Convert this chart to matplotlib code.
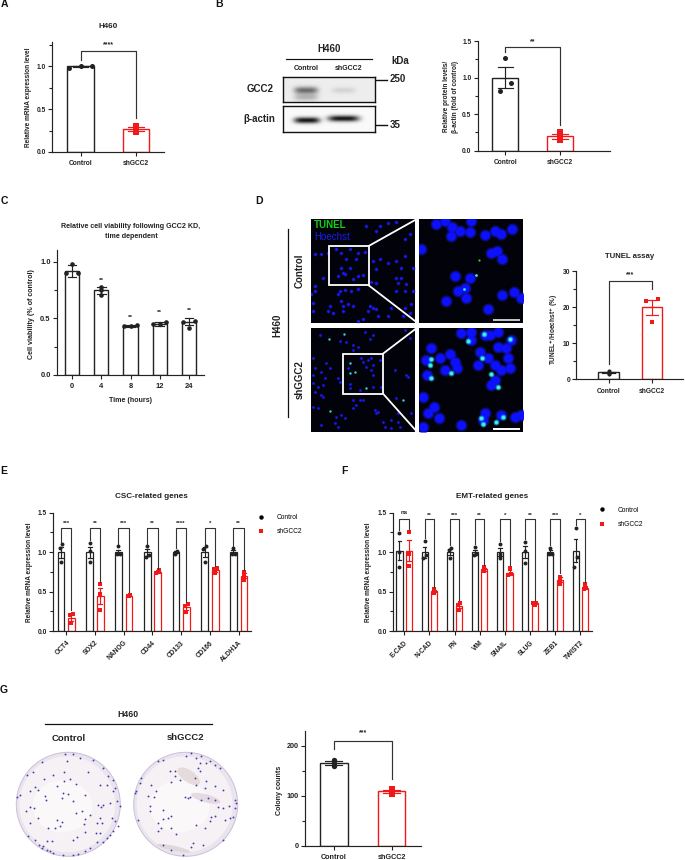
import numpy as np
import matplotlib
matplotlib.use("Agg")
import matplotlib.pyplot as plt
from matplotlib.lines import Line2D
from matplotlib.patches import Circle, Ellipse, Rectangle

plt.rcParams['font.family'] = ['Liberation Sans', 'DejaVu Sans']
plt.rcParams['font.weight'] = 'bold'
plt.rcParams['axes.linewidth'] = 0.85

BLACK = '#222222'
RED = '#f01818'
W, H = 685, 860

# panel A
a_ctrl = [0.98, 1.01, 1.00]
a_sh = [0.23, 0.30, 0.27]
a_means = [1.00, 0.27]
a_errs = [0.01, 0.025]

# panel B
b_ctrl = [1.27, 0.92, 0.81]
b_sh = [0.25, 0.20, 0.14]
b_means = [1.00, 0.20]
b_errs = [0.14, 0.035]

# panel C
c_times = ['0', '4', '8', '12', '24']
c_means = [0.92, 0.75, 0.43, 0.45, 0.47]
c_errs = [0.05, 0.03, 0.01, 0.02, 0.03]
c_points = [[0.98, 0.90, 0.90], [0.78, 0.75, 0.71], [0.44, 0.43, 0.43],
            [0.47, 0.45, 0.45], [0.48, 0.47, 0.41]]
c_stars = ['', '**', '**', '**', '**']
c_star_y = [0, 0.84, 0.51, 0.55, 0.566]

# panel D chart
d_ctrl = [2.3, 1.8, 1.5]
d_sh = [22.3, 21.8, 15.8]
d_means = [1.9, 20.0]
d_errs = [0.25, 2.0]

# panel E
e_genes = ['OCT4', 'SOX2', 'NANOG', 'CD44', 'CD133', 'CD166', 'ALDH1A']
e_ctrl = [[1.10, 1.05, 0.87], [1.12, 1.02, 0.87], [1.08, 0.98, 0.97], [1.08, 0.96, 0.94],
          [1.02, 1.00, 0.98], [1.08, 1.04, 0.88], [1.05, 0.98, 0.97]]
e_sh = [[0.22, 0.20, 0.10], [0.59, 0.47, 0.27], [0.46, 0.45, 0.44], [0.77, 0.75, 0.74],
        [0.34, 0.32, 0.24], [0.80, 0.78, 0.73], [0.75, 0.70, 0.65]]
e_ctrl_means = [1.0, 1.0, 1.0, 1.0, 1.0, 1.0, 1.0]
e_ctrl_errs = [0.07, 0.07, 0.03, 0.045, 0.01, 0.06, 0.025]
e_sh_means = [0.17, 0.44, 0.45, 0.75, 0.30, 0.77, 0.70]
e_sh_errs = [0.04, 0.10, 0.01, 0.01, 0.03, 0.02, 0.03]
e_stars = ['***', '**', '***', '**', '****', '*', '**']
e_left_leg = [1.13, 1.15, 1.10, 1.10, 1.05, 1.10, 1.08]
e_right_leg = [0.26, 0.62, 0.49, 0.79, 0.37, 0.83, 0.77]

# panel F
f_genes = ['E-CAD', 'N-CAD', 'FN', 'VIM', 'SNAIL', 'SLUG', 'ZEB1', 'TWIST2']
f_ctrl = [[1.24, 1.00, 0.81], [1.14, 0.96, 0.93], [1.05, 1.03, 0.92], [1.06, 0.98, 0.96],
          [1.10, 0.98, 0.92], [1.13, 1.02, 0.86], [1.05, 0.98, 0.97], [1.30, 0.94, 0.81]]
f_sh = [[1.25, 0.97, 0.83], [0.53, 0.50, 0.48], [0.36, 0.33, 0.27], [0.81, 0.78, 0.76],
        [0.80, 0.72, 0.71], [0.36, 0.35, 0.33], [0.69, 0.65, 0.60], [0.59, 0.54, 0.53]]
f_ctrl_means = [1.02, 1.0, 1.0, 1.0, 1.0, 1.0, 1.0, 1.02]
f_ctrl_errs = [0.12, 0.07, 0.04, 0.03, 0.05, 0.08, 0.025, 0.15]
f_sh_means = [1.02, 0.51, 0.32, 0.78, 0.74, 0.35, 0.65, 0.55]
f_sh_errs = [0.13, 0.015, 0.03, 0.015, 0.03, 0.01, 0.03, 0.02]
f_stars = ['ns', '**', '***', '**', '*', '**', '***', '*']
f_left_leg = [1.28, 1.18, 1.09, 1.10, 1.14, 1.17, 1.09, 1.34]
f_right_leg = [1.29, 0.56, 0.39, 0.84, 0.84, 0.39, 0.73, 0.62]

# panel G
g_ctrl = [173, 167, 160]
g_sh = [115, 111, 104]
g_means = [167, 110]
g_errs = [4, 3]

# micrographs, positions (crop coordinates, 3x zoom)
top_left_cells = [(20, 115), (38, 113), (60, 110), (85, 100), (100, 110), (125, 100), (150, 112), (170, 108),
                  (175, 30), (205, 45), (215, 30), (240, 22), (265, 18), (290, 70), (305, 55), (290, 120),
                  (215, 130), (240, 140), (265, 135), (195, 135), (205, 160), (280, 155), (315, 155), (265, 185),
                  (280, 185), (270, 200), (295, 205), (265, 225), (290, 225), (315, 225), (190, 198), (205, 200),
                  (100, 155), (125, 155), (105, 170), (90, 180), (110, 175), (135, 190), (150, 180), (165, 178),
                  (145, 130), (115, 130), (45, 185), (20, 210), (22, 225), (95, 225), (110, 222), (90, 235),
                  (150, 220), (130, 225), (100, 255), (105, 270), (120, 265), (135, 270), (65, 270), (60, 285),
                  (75, 290), (105, 285), (15, 260), (15, 285), (180, 285), (195, 275), (185, 270), (210, 300),
                  (165, 310), (150, 315), (205, 280), (240, 300), (290, 275), (310, 265), (305, 290), (285, 300),
                  (250, 275), (10, 235)]
top_zoom_cells = [(385, 25), (410, 15), (433, 32), (430, 60), (455, 45), (485, 48), (490, 15), (530, 58),
                  (560, 45), (578, 55), (612, 38), (338, 100), (548, 112), (567, 105), (583, 130), (440, 180),
                  (487, 185), (470, 215), (450, 225), (475, 245), (415, 255), (540, 280), (583, 238), (618, 228),
                  (640, 245)]
top_zoom_green = [(512, 133)]
top_zoom_cyan = [(505, 177), (468, 218)]
bottom_left_cells = [(15, 100), (20, 130), (15, 150), (15, 175), (30, 185), (40, 140), (55, 115), (65, 130),
                     (50, 160), (45, 180), (40, 210), (20, 200), (15, 245), (30, 250), (45, 215), (35, 30),
                     (95, 47), (115, 50), (135, 60), (150, 65), (185, 42), (135, 75), (160, 100), (120, 130),
                     (170, 20), (165, 110), (180, 105), (190, 100), (195, 120), (175, 125), (190, 135), (195, 150),
                     (215, 105), (90, 160), (95, 170), (125, 178), (125, 190), (155, 195), (195, 185), (220, 185),
                     (100, 270), (85, 275), (110, 280), (80, 295), (40, 300), (90, 305), (135, 225), (155, 225),
                     (145, 240), (165, 225), (135, 250), (200, 255), (210, 260), (205, 265), (260, 135), (295, 150),
                     (300, 155), (265, 220), (250, 285), (270, 290), (225, 290), (230, 305), (250, 310), (275, 305),
                     (270, 265), (310, 265), (305, 40), (290, 15), (195, 30)]
bottom_left_cyan = [(65, 258), (62, 42), (108, 27), (125, 115), (140, 140), (125, 145), (175, 190), (285, 225)]
bottom_zoom_cells = [(370, 70), (353, 105), (395, 100), (425, 88), (440, 110), (410, 135), (448, 130), (358, 150),
                     (460, 25), (490, 20), (490, 45), (530, 30), (545, 30), (515, 80), (510, 120), (540, 100),
                     (570, 65), (595, 70), (600, 100), (560, 120), (580, 135), (605, 130), (560, 165), (550, 180),
                     (345, 215), (378, 245), (360, 265), (392, 280), (460, 300), (530, 265), (525, 285), (580, 270),
                     (620, 275), (640, 270), (345, 305), (570, 20), (610, 45)]
bottom_zoom_cyan = [(368, 101), (365, 120), (370, 160), (430, 143), (480, 47), (527, 27), (607, 43), (523, 100),
                    (550, 147), (570, 187), (518, 280), (525, 297), (585, 275), (565, 290)]

# colonies on the two plates (crop coordinates, 3x zoom)
plate1_colonies = [(165, 17), (190, 17), (210, 30), (170, 38), (95, 42), (250, 35), (280, 60), (235, 72), (68, 72),
                   (52, 82), (130, 82), (102, 93), (162, 72), (295, 85), (310, 95), (162, 98), (198, 107), (180, 92),
                   (140, 115), (270, 110), (290, 110), (75, 118), (85, 125), (60, 130), (225, 140), (175, 138),
                   (160, 135), (155, 150), (190, 160), (105, 145), (108, 157), (30, 140), (22, 148), (60, 178),
                   (72, 180), (48, 190), (265, 172), (272, 178), (215, 190), (197, 195), (240, 200), (280, 170),
                   (300, 165), (322, 160), (310, 130), (315, 120), (330, 175), (305, 210), (270, 210), (262, 225),
                   (275, 225), (225, 252), (258, 255), (270, 255), (222, 228), (225, 212), (140, 215), (155, 222),
                   (150, 235), (135, 240), (85, 210), (60, 225), (115, 240), (200, 268), (190, 275), (260, 283),
                   (280, 282), (290, 270), (315, 220), (325, 235), (310, 250), (300, 262), (125, 280), (110, 280),
                   (75, 275), (55, 265), (100, 295), (120, 310), (130, 315), (160, 322), (190, 320), (205, 318),
                   (225, 308), (240, 300), (88, 290), (112, 305), (95, 300)]
plate2_colonies = [(90, 40), (105, 35), (175, 25), (205, 30), (220, 25), (245, 40), (260, 50), (275, 60), (190, 15),
                   (235, 45), (215, 45), (210, 60), (215, 70), (125, 70), (140, 70), (140, 85), (128, 102), (155, 95),
                   (200, 90), (205, 110), (235, 100), (260, 115), (230, 120), (285, 125), (40, 90), (35, 105),
                   (25, 130), (22, 135), (70, 110), (85, 128), (60, 145), (78, 148), (170, 148), (180, 149),
                   (185, 148), (220, 155), (240, 150), (260, 155), (320, 155), (325, 165), (322, 180), (303, 175),
                   (270, 178), (285, 180), (105, 185), (65, 175), (65, 190), (130, 205), (105, 212), (120, 210),
                   (260, 205), (250, 207), (30, 215), (90, 225), (100, 240), (130, 240), (205, 230), (230, 240),
                   (245, 220), (290, 215), (305, 210), (315, 208), (145, 258), (90, 250), (195, 285), (190, 298),
                   (225, 290), (105, 290), (130, 305), (165, 320), (285, 275)]

# western blot bands: centre x, centre y, half width, half height, darkness (fractions of the box)
gcc2_bands = [(0.25, 0.55, 0.13, 0.14, 0.50), (0.25, 0.82, 0.13, 0.14, 0.22), (0.66, 0.55, 0.13, 0.12, 0.10)]
actin_bands = [(0.26, 0.55, 0.14, 0.12, 0.90), (0.66, 0.48, 0.17, 0.12, 0.90)]


fig = plt.figure(figsize=(W / 100, H / 100), dpi=100, facecolor='white')

# overlay in pixel coordinates for labels and the panel furniture
ov = fig.add_axes([0, 0, 1, 1], zorder=5)
ov.set_xlim(0, W)
ov.set_ylim(H, 0)
ov.axis('off')


def axes_px(left, right, top, bottom, **kw):
    return fig.add_axes([left / W, 1 - bottom / H, (right - left) / W, (bottom - top) / H], **kw)


def label(x, y, s, size=4.8, rot=0, ha='center', va='center', **kw):
    ov.text(x, y, s, fontsize=size, rotation=rot, ha=ha, va=va, color=kw.pop('color', BLACK), **kw)


def swarm(vals, step):
    # spread points of similar height sideways, the way the original software does
    vals = np.array(vals)
    thr = (vals.max() - vals.min()) * 0.3 + 0.005 * max(vals.max(), 1)
    off = np.zeros(len(vals))
    order = np.argsort(vals)
    lo, mid, hi = order
    if vals[hi] - vals[lo] < thr * 1.6 or vals[hi] - vals[lo] < 0.05 * vals.max():
        off[lo], off[mid], off[hi] = -step, 0, step
    elif vals[hi] - vals[mid] < thr:
        off[mid], off[hi] = -step, step
    elif vals[mid] - vals[lo] < thr:
        off[lo], off[mid] = -step, step
    return off


def bar_group(ax, x, mean, err, pts, color, width, step, ms=11, marker='o', lw=1.0):
    ax.bar(x, mean, width, facecolor='white', edgecolor=color, linewidth=lw, zorder=2)
    cap = width * 0.3
    ax.plot([x, x], [mean - err, mean + err], color=color, lw=0.85, zorder=3)
    for v in (mean - err, mean + err):
        ax.plot([x - cap, x + cap], [v, v], color=color, lw=0.85, zorder=3)
    ax.scatter(x + swarm(pts, step), pts, s=ms, c=color, marker=marker, linewidths=0, zorder=4)


def bracket(ax, x0, x1, top, left_leg, right_leg, text, text_y, size=5, lw=0.85):
    ax.plot([x0, x0, x1, x1], [left_leg, top, top, right_leg], color='#333333', lw=lw, clip_on=False, zorder=5)
    ax.text((x0 + x1) / 2, text_y, text, fontsize=size, ha='center', va='center', color=BLACK, clip_on=False)


def chart(left, right, top, y0, x0, spacing, ylim, yticks, minor, xlabels, xticks=None, rot=0, fs=4.8):
    ax = axes_px(left, right, top, y0)
    ax.patch.set_alpha(0)
    ax.set_xlim((left - x0) / spacing, (right - x0) / spacing)
    ax.set_ylim(0, ylim)
    for s in ('top', 'right'):
        ax.spines[s].set_visible(False)
    ax.spines['left'].set_color(BLACK)
    ax.spines['bottom'].set_color(BLACK)
    ax.set_yticks(yticks)
    ax.set_yticks(minor, minor=True)
    ax.tick_params(axis='y', which='major', length=3, width=0.8, labelsize=fs, pad=1.5, color=BLACK, labelcolor=BLACK)
    ax.tick_params(axis='y', which='minor', length=2, width=0.8, color=BLACK)
    ax.set_xticks(range(len(xlabels)) if xticks is None else xticks)
    if rot:
        ax.set_xticklabels(xlabels, rotation=rot, ha='right', rotation_mode='anchor')
    else:
        ax.set_xticklabels(xlabels)
    ax.tick_params(axis='x', length=3, width=0.8, labelsize=fs, pad=3, color=BLACK, labelcolor=BLACK)
    return ax


# A
ax = chart(52.3, 164, 41.7, 152, 80.5, 55.5, 1.29, [0, 0.5, 1.0], [0.25, 0.75, 1.25], ['Control', 'shGCC2'])
bar_group(ax, 0, a_means[0], a_errs[0], a_ctrl, BLACK, 0.475, 0.2, ms=13)
bar_group(ax, 1, a_means[1], a_errs[1], a_sh, RED, 0.475, 0.13, ms=13, marker='s')
bracket(ax, 0, 1, 1.187, 1.08, 0.395, '****', 1.25)
label(108, 26, 'H460', 5.8)
label(29, 97.7, 'Relative mRNA expression level', 4.7, 90)

# B chart
ax = chart(477.7, 610, 41, 150.7, 505.3, 54.7, 1.5, [0, 0.5, 1.0, 1.5], [0.25, 0.75, 1.25], ['Control', 'shGCC2'])
bar_group(ax, 0, b_means[0], b_errs[0], b_ctrl, BLACK, 0.475, 0.1, ms=13)
bar_group(ax, 1, b_means[1], b_errs[1], b_sh, RED, 0.475, 0.13, ms=13, marker='s')
bracket(ax, 0, 1, 1.418, 1.354, 0.35, '**', 1.49)
label(446.7, 96.7, 'Relative protein levels/', 4.7, 90)
label(455.7, 96.7, 'β-actin (fold of control)', 4.7, 90)

# B blot
blot_boxes = [(gcc2_bands, 76.7, 102.0, 0.93), (actin_bands, 106.3, 131.7, 0.98)]
for bands, top, bottom, bg in blot_boxes:
    bx = axes_px(283.3, 375, top, bottom)
    yy, xx = np.mgrid[0:1:60j, 0:1:180j]
    img = np.full(xx.shape, bg)
    for cx, cy, wx, wy, dark in bands:
        img = img - dark * np.exp(-((xx - cx) / wx) ** 4 - ((yy - cy) / wy) ** 2)
    bx.imshow(np.clip(img, 0, 1), cmap='gray', vmin=0, vmax=1, aspect='auto', extent=(0, 1, 1, 0))
    bx.set_xticks([])
    bx.set_yticks([])
    for s in bx.spines.values():
        s.set_linewidth(1.0)
        s.set_color('#111111')
ov.plot([285.7, 371.7], [58.7, 58.7], color='#111111', lw=0.85)
ov.plot([375.7, 386.7], [79.7, 79.7], color='#111111', lw=1.0)
ov.plot([375.7, 386.7], [125.3, 125.3], color='#111111', lw=1.0)
label(329.3, 49.3, 'H460', 7)
label(306.7, 69, 'Control', 5)
label(349, 68.3, 'shGCC2', 5)
label(400, 61, 'kDa', 7)
label(390, 79.3, '250', 7, ha='left')
label(390, 125, '35', 7, ha='left')
label(260, 88.7, 'GCC2', 7)
label(259.3, 118.7, 'β-actin', 7)

# C
ax = chart(57, 204, 250, 374.7, 72, 29.25, 1.106, [0, 0.5, 1.0], [0.25, 0.75], c_times, fs=5.4)
for i, t in enumerate(c_times):
    bar_group(ax, i, c_means[i], c_errs[i], c_points[i], BLACK, 0.49, 0.22, ms=11)
    if c_stars[i]:
        ax.text(i, c_star_y[i], c_stars[i], fontsize=4.6, ha='center', va='center', color=BLACK)
label(131, 227, 'Relative cell viability following GCC2 KD,', 5.1)
label(131, 236, 'time dependent', 5.1)
label(31.7, 314, 'Cell viability (% of control)', 5.1, 90)
label(130.5, 400.5, 'Time (hours)', 5.1)


# D micrographs
def micro(x0, x1, y0, y1, crop_y):
    m = axes_px(308 + x0 / 3, 308 + x1 / 3, crop_y + y0 / 3, crop_y + y1 / 3, facecolor='#01020a')
    m.set_xlim(x0, x1)
    m.set_ylim(y1, y0)
    m.set_xticks([])
    m.set_yticks([])
    for s in m.spines.values():
        s.set_visible(False)
    return m


def xy(pts):
    return np.array(pts)[:, 0], np.array(pts)[:, 1]


m = micro(10, 322, 10, 320, 216)
m.scatter(*xy(top_left_cells), s=8, c='#1818c8', linewidths=0, alpha=0.55)
m.scatter(*xy(top_left_cells), s=3.5, c='#1a1aff', linewidths=0)
m.add_patch(Rectangle((62, 90), 120, 118, fill=False, ec='white', lw=1.3))
m.text(18, 28, 'TUNEL', fontsize=7, color='#12d012', va='center')
m.text(18, 63, 'Hoechst', fontsize=7, color='#1c1ce6', va='center', fontweight='normal')

m = micro(333, 645, 10, 320, 216)
m.scatter(*xy(top_zoom_cells), s=75, c='#1212b8', linewidths=0, alpha=0.6)
m.scatter(*xy(top_zoom_cells), s=40, c='#0c10ff', linewidths=0)
m.scatter(*xy(top_zoom_green), s=2.5, c='#20e040', linewidths=0)
m.scatter(*xy(top_zoom_cyan), s=4, c='#30e8e8', linewidths=0)
m.plot([558, 633], [312, 312], color='#c8c8c8', lw=1.4)

m = micro(10, 322, 10, 320, 325)
m.scatter(*xy(bottom_left_cells), s=6, c='#1212a8', linewidths=0, alpha=0.55)
m.scatter(*xy(bottom_left_cells), s=2.8, c='#1a1aff', linewidths=0)
m.scatter(*xy(bottom_left_cyan), s=3, c='#30d8d8', linewidths=0)
m.add_patch(Rectangle((105, 86), 120, 120, fill=False, ec='white', lw=1.3))

m = micro(333, 645, 10, 320, 325)
m.scatter(*xy(bottom_zoom_cells), s=75, c='#1212b8', linewidths=0, alpha=0.6)
m.scatter(*xy(bottom_zoom_cells), s=40, c='#0c10ff', linewidths=0)
m.scatter(*xy(bottom_zoom_cyan), s=18, c='#20c0e8', linewidths=0, alpha=0.6)
m.scatter(*xy(bottom_zoom_cyan), s=7, c='#40f0e0', linewidths=0)
m.plot([558, 633], [311, 311], color='white', lw=1.4)

for cy, sq_x, sq_t, sq_b in [(216, 182, 90, 208), (325, 225, 86, 206)]:
    ov.plot([308 + sq_x / 3, 308 + 325 / 3], [cy + sq_t / 3, cy + 10 / 3], color='white', lw=1.3, clip_on=False)
    ov.plot([308 + sq_x / 3, 308 + 325 / 3], [cy + sq_b / 3, cy + 318 / 3], color='white', lw=1.3, clip_on=False)
ov.plot([287.7, 287.7], [229, 416.7], color='#111111', lw=0.9)
label(277, 325, 'H460', 7, 90)
label(300, 271, 'Control', 7, 90)
label(300, 380, 'shGGC2', 7, 90)

# D chart
ax = chart(576.3, 683, 271.3, 379.3, 608.5, 43.5, 30, [0, 10, 20, 30], [5, 15, 25], ['Control', 'shGCC2'])
bar_group(ax, 0, d_means[0], d_errs[0], d_ctrl, BLACK, 0.46, 0.2, ms=9)
bar_group(ax, 1, d_means[1], d_errs[1], d_sh, RED, 0.46, 0.13, ms=11, marker='s')
bracket(ax, 0, 1, 27.2, 4.25, 25, '***', 29)
label(630, 256.7, 'TUNEL assay', 5.6)
label(555, 330, 'TUNEL$^{\\mathbf{+}}$/Hoechst$^{\\mathbf{+}}$ (%)', 4.7, 90)


# E and F
def gene_chart(left, right, x0, spacing, offset, width, genes, ctrl, sh, cm, ce, sm, se, stars, lleg, rleg, top, star_y):
    ax = chart(left, right, 512.7, 631, x0, spacing, 1.5, [0, 0.5, 1.0, 1.5], [0.25, 0.75, 1.25], genes, rot=45)
    for i in range(len(genes)):
        bar_group(ax, i - offset, cm[i], ce[i], ctrl[i], BLACK, width, 0.05, ms=8, lw=0.9)
        bar_group(ax, i + offset, sm[i], se[i], sh[i], RED, width, 0.05, ms=8, marker='s', lw=0.9)
        y = 1.5 if stars[i] == 'ns' else star_y
        bracket(ax, i - offset, i + offset, top, lleg[i], rleg[i], stars[i], y, size=4.4, lw=0.8)
    return ax


ax = gene_chart(53.3, 251, 66.2, 28.75, 0.183, 0.233, e_genes, e_ctrl, e_sh, e_ctrl_means, e_ctrl_errs,
                e_sh_means, e_sh_errs, e_stars, e_left_leg, e_right_leg, 1.30, 1.36)
leg_handles = [Line2D([], [], ls='', marker='o', ms=3.2, color='black', mew=0),
               Line2D([], [], ls='', marker='s', ms=3, color=RED, mew=0)]
ax.legend(leg_handles, ['Control', 'shGCC2'], frameon=False, prop={'size': 4.8, 'weight': 'normal'},
          loc='center left', bbox_to_anchor=(1.0, 0.9), handletextpad=1.4, labelspacing=1.1, borderpad=0)
label(151.7, 496.7, 'CSC-related genes', 5.9)
label(29.3, 572.7, 'Relative mRNA expression level', 4.7, 90)

ax = gene_chart(393.3, 591.7, 404.2, 25.15, 0.187, 0.24, f_genes, f_ctrl, f_sh, f_ctrl_means, f_ctrl_errs,
                f_sh_means, f_sh_errs, f_stars, f_left_leg, f_right_leg, 1.415, 1.46)
ax.legend(leg_handles, ['Control', 'shGCC2'], frameon=False, prop={'size': 4.8, 'weight': 'normal'},
          loc='center left', bbox_to_anchor=(1.0, 0.96), handletextpad=1.4, labelspacing=1.1, borderpad=0)
label(492, 496.7, 'EMT-related genes', 5.9)
label(369, 572.7, 'Relative mRNA expression level', 4.7, 90)

# G plates
for cx, cy_plate, crop_x, cols, stained in [(68.3, 804.3, 10, plate1_colonies, False),
                                            (185.7, 804.3, 128, plate2_colonies, True)]:
    ov.add_patch(Circle((cx, cy_plate), 52, fc='#e9e4ee', ec='#c8c0d8', lw=0.7))
    ov.add_patch(Circle((cx - 1, cy_plate), 48, fc='#f5f1f4', ec='none'))
    ov.add_patch(Ellipse((cx - 6, cy_plate + 2), 60, 52, fc='#faf8f9', ec='none'))
    if stained:
        ov.add_patch(Ellipse((cx + 3, cy_plate - 28), 26, 12, angle=35, fc='#d9c6c6', ec='none', alpha=0.5))
        ov.add_patch(Ellipse((cx + 20, cy_plate - 6), 30, 8, angle=15, fc='#d8c6d2', ec='none', alpha=0.6))
        ov.add_patch(Ellipse((cx - 12, cy_plate + 44), 34, 5, angle=12, fc='#d8ccd0', ec='none', alpha=0.7))
    c = np.array(cols)
    ov.scatter(crop_x + c[:, 0] / 3, 748 + c[:, 1] / 3, s=1.8, c='#4a3aa8', linewidths=0)
ov.plot([45, 211.7], [724.3, 724.3], color='#111111', lw=0.9)
label(128.3, 714.3, 'H460', 6.3)
label(68.3, 738.3, 'Control', 6.8)
label(185.7, 737.7, 'shGCC2', 6.8)

# G chart
ax = chart(305, 420.7, 730.7, 846, 333.8, 57.7, 230.6, [0, 100, 200], [50, 150], ['Control', 'shGCC2'], fs=5.2)
bar_group(ax, 0, g_means[0], g_errs[0], g_ctrl, BLACK, 0.48, 0.17, ms=15)
bar_group(ax, 1, g_means[1], g_errs[1], g_sh, RED, 0.48, 0.3, ms=15, marker='s')
bracket(ax, 0, 1, 210.6, 195, 135, '***', 226)
label(279.3, 790, 'Colony counts', 5.1, 90)

# panel letters
for s, x, y in [('A', 4, 4), ('B', 219, 4), ('C', 4, 201), ('D', 259, 201), ('E', 4, 471), ('F', 344, 471), ('G', 4, 690)]:
    label(x, y, s, 7.5, color='#111111')

fig.savefig('out.png', dpi=100)
